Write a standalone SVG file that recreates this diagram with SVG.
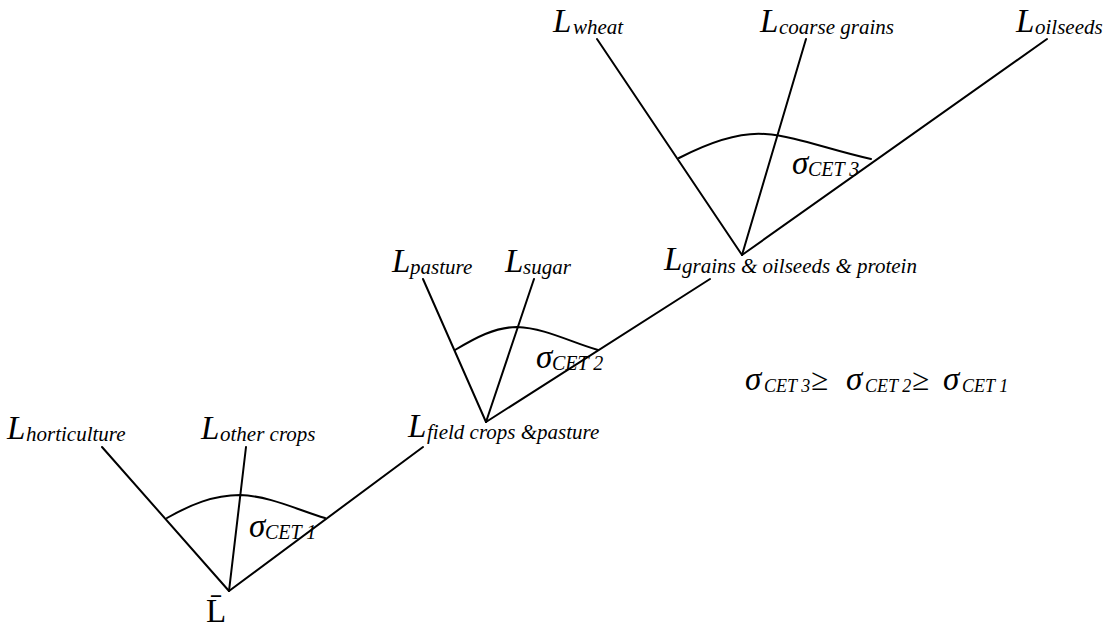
<svg xmlns="http://www.w3.org/2000/svg" width="1109" height="628" viewBox="0 0 1109 628">
  <style>
    .edge { stroke: #000; stroke-width: 2; fill: none; stroke-linecap: round; }
    text { font-family: "Liberation Serif", "Times New Roman", serif; font-style: italic; fill: #000; }
    .big { font-size: 33px; }
    .sub { font-size: 21px; }
    .sig { font-size: 33px; }
    .cet { font-size: 20px; }
    .cet-s { font-size: 18px; }
    .geq { font-size: 31px; font-style: normal; }
    .bar { font-style: normal; }
  </style>
  <rect width="1109" height="628" fill="#fff"/>

  <!-- connectors: branch lines and elasticity arcs -->
  <g id="connectors">
    <!-- top nest -->
    <line class="edge" x1="742" y1="255" x2="597" y2="39"/>
    <line class="edge" x1="742" y1="255" x2="806" y2="39"/>
    <line class="edge" x1="742" y1="255" x2="1047" y2="39"/>
    <path class="edge" d="M679,158 C710,142 740,132 765,134 C795,136 830,150 871,159"/>
    <!-- middle nest -->
    <line class="edge" x1="486" y1="422" x2="423" y2="279"/>
    <line class="edge" x1="486" y1="422" x2="534" y2="279"/>
    <line class="edge" x1="486" y1="422" x2="710" y2="279"/>
    <path class="edge" d="M455,350 C475,338 495,327 517,327 C545,328 570,342 598,350"/>
    <!-- bottom nest -->
    <line class="edge" x1="229" y1="591" x2="102" y2="447"/>
    <line class="edge" x1="229" y1="591" x2="246" y2="447"/>
    <line class="edge" x1="229" y1="591" x2="423" y2="447"/>
    <path class="edge" d="M167,518 C190,505 213,495 240,495 C270,496 298,510 325,518"/>
  </g>

  <!-- top nest labels -->
  <g id="wheat"><text class="big" x="553" y="32">L<tspan class="sub" x="573" dy="2">wheat</tspan></text></g>
  <g id="coarse-grains"><text class="big" x="760" y="32">L<tspan class="sub" x="779" dy="2">coarse grains</tspan></text></g>
  <g id="oilseeds"><text class="big" x="1016" y="32">L<tspan class="sub" x="1035" dy="2">oilseeds</tspan></text></g>
  <g id="sigma3"><text class="sig" x="792" y="174">σ<tspan class="cet" x="808" dy="2">CET 3</tspan></text></g>
  <g id="grains-oilseeds-protein"><text class="big" x="664" y="270">L<tspan class="sub" x="682" dy="3">grains &amp; oilseeds &amp; protein</tspan></text></g>

  <!-- middle nest labels -->
  <g id="pasture"><text class="big" x="392" y="272">L<tspan class="sub" x="410" dy="2">pasture</tspan></text></g>
  <g id="sugar"><text class="big" x="505" y="272">L<tspan class="sub" x="523" dy="2">sugar</tspan></text></g>
  <g id="sigma2"><text class="sig" x="536" y="368">σ<tspan class="cet" x="552" dy="2">CET 2</tspan></text></g>
  <g id="field-crops-pasture"><text class="big" x="408" y="437">L<tspan class="sub" x="427" dy="2">field crops &amp;pasture</tspan></text></g>

  <!-- bottom nest labels -->
  <g id="horticulture"><text class="big" x="7" y="439">L<tspan class="sub" x="26" dy="2">horticulture</tspan></text></g>
  <g id="other-crops"><text class="big" x="201" y="439">L<tspan class="sub" x="220" dy="2">other crops</tspan></text></g>
  <g id="sigma1"><text class="sig" x="249" y="537">σ<tspan class="cet" x="265" dy="2">CET 1</tspan></text></g>
  <g id="land-total"><text class="big bar" x="206" y="622">L̄</text></g>

  <!-- ordering of elasticities -->
  <g id="ordering">
    <text class="sig" x="745" y="390">σ<tspan class="cet-s" x="764" dy="2">CET 3</tspan><tspan class="geq" x="811" dy="-2">≥</tspan><tspan x="846">σ</tspan><tspan class="cet-s" x="865" dy="2">CET 2</tspan><tspan class="geq" x="912" dy="-2">≥</tspan><tspan x="943">σ</tspan><tspan class="cet-s" x="962" dy="2">CET 1</tspan></text>
  </g>
</svg>
